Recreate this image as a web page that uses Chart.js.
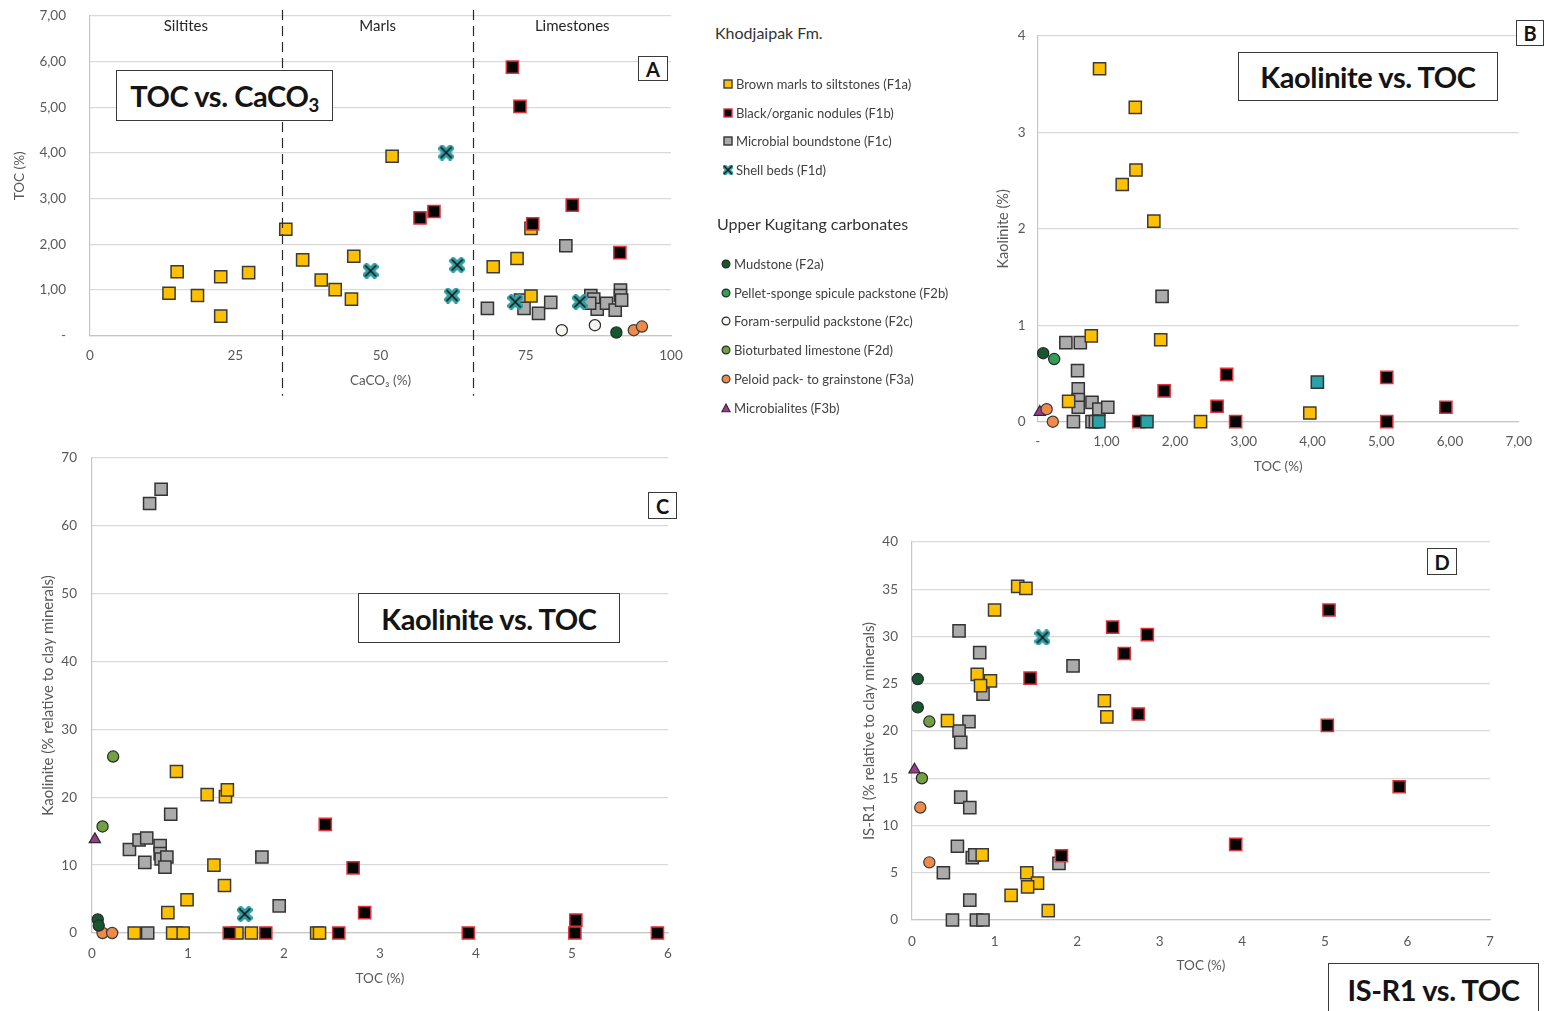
<!DOCTYPE html>
<html>
<head>
<meta charset="utf-8">
<script src="https://cdn.jsdelivr.net/npm/chart.js@4.4.1/dist/chart.umd.min.js"></script>
<style>
  html, body { margin: 0; padding: 0; background: #fff; }
  body { width: 1545px; height: 1011px; position: relative; overflow: hidden; font-family: Lato, "Open Sans", sans-serif; }
  .pane { position: absolute; }
  .tbox { position: absolute; border: 1.5px solid #3a3a3a; background: #fff; font-weight: 700; color: #141414;
          display: flex; align-items: center; justify-content: center; white-space: nowrap; box-sizing: border-box; letter-spacing: -0.4px; }
  .tbox sub { font-size: 0.64em; vertical-align: -0.28em; line-height: 0; }
  .lbox { position: absolute; border: 1.5px solid #3a3a3a; background: #fff; font-weight: 700; color: #141414;
          display: flex; align-items: center; justify-content: center; font-size: 20px; box-sizing: border-box; }
  .lg-head { position: absolute; font-size: 16px; color: #333; white-space: nowrap; }
  .lg-item { position: absolute; font-size: 13px; color: #404040; white-space: nowrap; display: flex; align-items: center; }
  .lg-item svg { margin-right: 3px; }
</style>
</head>
<body>

<div class="pane" style="left:0;top:0;"><canvas id="chA" width="690" height="400"></canvas></div>
<div class="pane" style="left:990px;top:0;"><canvas id="chB" width="555" height="480"></canvas></div>
<div class="pane" style="left:30px;top:440px;"><canvas id="chC" width="660" height="560"></canvas></div>
<div class="pane" style="left:850px;top:525px;"><canvas id="chD" width="695" height="486"></canvas></div>

<div class="tbox" style="left:116px;top:70px;width:217px;height:51px;font-size:29px;"><span>TOC vs. CaCO<sub>3</sub></span></div>
<div class="lbox" style="left:638px;top:56px;width:30px;height:25px;">A</div>

<div class="tbox" style="left:1238px;top:52px;width:260px;height:49px;font-size:29px;">Kaolinite vs. TOC</div>
<div class="lbox" style="left:1516px;top:20px;width:28px;height:26px;">B</div>

<div class="tbox" style="left:358px;top:593px;width:262px;height:50px;font-size:29px;">Kaolinite vs. TOC</div>
<div class="lbox" style="left:648px;top:492px;width:29px;height:27px;">C</div>

<div class="tbox" style="left:1328px;top:963px;width:211px;height:56px;font-size:29px;align-items:flex-start;padding-top:8px;">IS-R1 vs. TOC</div>
<div class="lbox" style="left:1427px;top:548px;width:30px;height:27px;">D</div>

<div id="legend"></div>

<script>
// ---- Facies names ----
const faciesNames = {
  F1a: 'Brown marls to siltstones (F1a)',
  F1b: 'Black/organic nodules (F1b)',
  F1c: 'Microbial boundstone (F1c)',
  F1d: 'Shell beds (F1d)',
  F2a: 'Mudstone (F2a)',
  F2b: 'Pellet-sponge spicule packstone (F2b)',
  F2c: 'Foram-serpulid packstone (F2c)',
  F2d: 'Bioturbated limestone (F2d)',
  F3a: 'Peloid pack- to grainstone (F3a)',
  F3b: 'Microbialites (F3b)'
};
const groupHeads = ['Khodjaipak Fm.', 'Upper Kugitang carbonates'];
const groupKhodjaipak = ['F1a', 'F1b', 'F1c', 'F1d'];
const groupKugitang = ['F2a', 'F2b', 'F2c', 'F2d', 'F3a', 'F3b'];

// ---- Panel A: TOC (%) vs CaCO3 (%) — [CaCO3, TOC] ----
const A_F1a = [[13.6,0.93],[15.0,1.40],[18.5,0.88],[22.5,1.29],[22.5,0.43],[27.3,1.38],[33.7,2.33],[36.6,1.66],
               [39.8,1.22],[42.2,1.01],[45.0,0.80],[45.4,1.74],[52.0,3.93],[69.4,1.51],[73.5,1.69],[75.9,0.87],[75.9,2.35]];
const A_F1b = [[56.8,2.58],[59.2,2.72],[72.7,5.88],[74.0,5.02],[76.2,2.45],[83.0,2.86],[91.2,1.82]];
const A_F1c = [[68.4,0.60],[74.1,0.78],[74.7,0.60],[77.2,0.49],[79.3,0.73],[81.9,1.97],[86.2,0.88],[86.7,0.80],
               [87.3,0.58],[86.0,0.71],[88.9,0.71],[90.4,0.56],[91.3,1.00],[91.3,0.88],[91.5,0.78]];
const A_F1d = [[48.3,1.42],[61.3,4.01],[62.3,0.88],[63.2,1.55],[73.2,0.74],[84.3,0.74]];
const A_F2a = [[90.6,0.07]];
const A_F2c = [[81.2,0.12],[86.9,0.23]];
const A_F3a = [[93.6,0.12],[95.0,0.20]];
const A_xTicks = ['0','25','50','75','100'];
const A_yTicks = ['-','1,00','2,00','3,00','4,00','5,00','6,00','7,00'];
const A_zones = ['Siltites','Marls','Limestones'];
const A_zoneBounds = [0, 33, 66, 100];

// ---- Panel B: Kaolinite (%) vs TOC (%) ----
const B_F1a = [[0.90,3.66],[1.42,3.26],[1.43,2.61],[1.23,2.46],[1.69,2.08],[0.78,0.89],[1.79,0.85],[0.45,0.21],[2.37,0],[3.96,0.09]];
const B_F1b = [[2.75,0.49],[1.84,0.32],[2.61,0.16],[2.88,0],[1.47,0],[5.08,0.46],[5.08,0],[5.94,0.15]];
const B_F1c = [[1.81,1.30],[0.41,0.82],[0.62,0.82],[0.58,0.53],[0.59,0.34],[0.59,0.23],[0.59,0.15],[0.79,0.20],
               [0.89,0.13],[1.02,0.15],[0.52,0],[0.79,0],[0.84,0]];
const B_F1d = [[4.07,0.41],[1.59,0],[0.89,0]];
const B_F2a = [[0.08,0.71]];
const B_F2b = [[0.24,0.65]];
const B_F3a = [[0.13,0.13],[0.22,0]];
const B_F3b = [[0.03,0.10]];
const B_xTicks = ['-','1,00','2,00','3,00','4,00','5,00','6,00','7,00'];
const B_yTicks = ['0','1','2','3','4'];

// ---- Panel C: Kaolinite (% relative to clay minerals) vs TOC (%) ----
const C_F1a = [[0.88,23.8],[1.20,20.4],[1.39,20.1],[1.41,21.1],[1.27,10.0],[1.38,7.0],[0.99,4.9],[0.79,3.0],
               [0.44,0],[0.84,0],[0.95,0],[1.51,0],[1.66,0],[2.34,0],[2.37,0]];
const C_F1b = [[2.43,16.0],[2.72,9.6],[2.84,3.0],[5.04,1.9],[1.43,0],[1.81,0],[2.57,0],[3.92,0],[5.03,0],[5.89,0]];
const C_F1c = [[0.60,63.3],[0.72,65.4],[0.82,17.5],[0.39,12.3],[0.49,13.7],[0.57,14.0],[0.55,10.4],[0.71,12.9],
               [0.71,11.7],[0.72,10.9],[0.78,11.2],[0.76,9.7],[1.77,11.2],[1.95,4.0],[0.58,0],[0.88,0]];
const C_F1d = [[1.59,2.8]];
const C_F2a = [[0.06,2.0],[0.07,1.1]];
const C_F2d = [[0.22,26.0],[0.11,15.7]];
const C_F3a = [[0.11,0],[0.21,0]];
const C_F3b = [[0.03,13.8]];
const C_xTicks = ['0','1','2','3','4','5','6'];
const C_yTicks = ['0','10','20','30','40','50','60','70'];

// ---- Panel D: IS-R1 (% relative to clay minerals) vs TOC (%) ----
const D_F1a = [[1.28,35.3],[1.38,35.1],[1.00,32.8],[0.79,26.0],[0.95,25.3],[0.83,24.8],[0.43,21.1],[2.33,23.2],
               [2.36,21.5],[0.85,6.9],[1.39,5.0],[1.52,3.9],[1.40,3.5],[1.20,2.6],[1.65,1.0]];
const D_F1b = [[5.05,32.8],[2.43,31.0],[2.85,30.2],[2.57,28.2],[1.43,25.6],[2.74,21.8],[5.03,20.6],[5.90,14.1],[3.92,8.0],[1.81,6.8]];
const D_F1c = [[0.57,30.6],[0.82,28.3],[1.95,26.9],[0.86,23.9],[0.69,21.0],[0.57,20.0],[0.59,18.8],[0.59,13.0],
               [0.70,11.9],[0.55,7.8],[0.73,6.6],[0.76,6.9],[0.38,5.0],[1.78,6.0],[0.70,2.1],[0.49,0],[0.78,0],[0.86,0]];
const D_F1d = [[1.58,29.9]];
const D_F2a = [[0.07,25.5],[0.07,22.5]];
const D_F2d = [[0.21,21.0],[0.12,15.0]];
const D_F3a = [[0.10,11.9],[0.21,6.1]];
const D_F3b = [[0.03,15.9]];
const D_xTicks = ['0','1','2','3','4','5','6','7'];
const D_yTicks = ['0','5','10','15','20','25','30','35','40'];

// ---- Marker styles ----
function shellMarker() {
  const c = document.createElement('canvas');
  c.width = 16; c.height = 16;
  const g = c.getContext('2d');
  g.lineCap = 'square';
  g.strokeStyle = '#2f9fa3'; g.lineWidth = 7;
  g.beginPath(); g.moveTo(4,4); g.lineTo(12,12); g.moveTo(12,4); g.lineTo(4,12); g.stroke();
  g.strokeStyle = '#111'; g.lineWidth = 1.5; g.lineCap = 'butt';
  g.beginPath(); g.moveTo(2.5,2.5); g.lineTo(13.5,13.5); g.moveTo(13.5,2.5); g.lineTo(2.5,13.5); g.stroke();
  return c;
}
const SHELL = shellMarker();
const styles = {
  F1a: { shape: 'rect', r: 8.6, fill: '#FFC000', stroke: '#3a3a3a', bw: 1.5, order: 2 },
  F1b: { shape: 'rect', r: 8.6, fill: '#050505', stroke: '#e0323c', bw: 1.5, order: 1 },
  F1c: { shape: 'rect', r: 8.6, fill: '#ababab', stroke: '#333333', bw: 1.5, order: 3 },
  F1d: { shape: SHELL,  r: 8,   fill: '#2f9fa3', stroke: '#222', bw: 1, order: 0 },
  F1dSq: { shape: 'rect', r: 8.6, fill: '#2aa3a8', stroke: '#333333', bw: 1.5, order: 0 },
  F2a: { shape: 'circle', r: 5.6, fill: '#17572f', stroke: '#2a2a2a', bw: 1.2, order: 2 },
  F2b: { shape: 'circle', r: 5.6, fill: '#2ea155', stroke: '#2a2a2a', bw: 1.2, order: 2 },
  F2c: { shape: 'circle', r: 5.6, fill: '#f7f7f2', stroke: '#2a2a2a', bw: 1.2, order: 2 },
  F2d: { shape: 'circle', r: 5.6, fill: '#73a043', stroke: '#2a2a2a', bw: 1.2, order: 2 },
  F3a: { shape: 'circle', r: 5.6, fill: '#f08a48', stroke: '#3a3a3a', bw: 1.2, order: 2 },
  F3b: { shape: 'triangle', r: 6.5, fill: '#9a3c8e', stroke: '#2a2a2a', bw: 1.2, order: 2 }
};

const TICK_COLOR = '#595959';
const NONE = 'rgba(0,0,0,0)';
const FONT = 'Lato, "Open Sans", sans-serif';
Chart.defaults.font.family = FONT;

function ds(key, pts, styleKey) {
  const s = styles[styleKey || key];
  return {
    label: faciesNames[key],
    data: pts.map(p => ({ x: p[0], y: p[1] })),
    pointStyle: s.shape, pointRadius: s.r, pointHoverRadius: s.r,
    backgroundColor: s.fill, borderColor: s.stroke, borderWidth: s.bw,
    pointBackgroundColor: s.fill, pointBorderColor: s.stroke, pointBorderWidth: s.bw,
    order: s.order, showLine: false
  };
}

// Tick-label offsets use an invisible tick mark length so the label gap
// does not inflate the layout padding around the plot area.
function makeChart(id, datasets, cfg) {
  return new Chart(document.getElementById(id), {
    type: 'scatter',
    data: { datasets },
    options: {
      responsive: false, animation: false, events: [],
      layout: { padding: { top: cfg.padTop, right: cfg.padRight, left: 0, bottom: 0 } },
      plugins: { legend: { display: false }, tooltip: { enabled: false } },
      clip: false,
      scales: {
        x: {
          type: 'linear', min: cfg.xMin, max: cfg.xMax,
          afterFit: s => { s.height = cfg.xAxisH; },
          grid: { display: true, drawOnChartArea: false, drawTicks: true, tickLength: cfg.xTickPad,
                  tickColor: NONE, color: NONE },
          border: { display: true, color: '#c6c6c6', width: 1.2 },
          ticks: { stepSize: cfg.xStep, padding: 0, color: TICK_COLOR, font: { size: 13.5 },
                   maxRotation: 0, autoSkip: false, callback: (v, i) => cfg.xTicks[i] },
          title: { display: true, text: cfg.xTitle, color: TICK_COLOR, font: { size: 13.5 },
                   padding: { top: 0, bottom: cfg.xTitlePad } }
        },
        y: {
          type: 'linear', min: cfg.yMin, max: cfg.yMax,
          afterFit: s => { s.width = cfg.yAxisW; },
          grid: { display: true, drawTicks: true, tickLength: cfg.yTickPad, tickColor: NONE,
                  color: '#d9d9d9', lineWidth: 1.3 },
          border: { display: true, color: '#c6c6c6', width: 1.2 },
          ticks: { stepSize: cfg.yStep, padding: 0, color: TICK_COLOR, font: { size: 13.5 },
                   autoSkip: false, callback: (v, i) => cfg.yTicks[i] },
          title: { display: true, text: cfg.yTitle, color: TICK_COLOR, font: { size: cfg.yTitleSize || 13.5 },
                   padding: { top: cfg.yTitlePad, bottom: 0 } }
        }
      }
    },
    plugins: cfg.plugins || []
  });
}

// Lithology zones (dashed boundaries + names) on the CaCO3 axis
const zonePlugin = {
  id: 'zones',
  afterDatasetsDraw(chart) {
    const { ctx, chartArea, scales: { x } } = chart;
    ctx.save();
    ctx.strokeStyle = '#2b2b2b';
    ctx.lineWidth = 1.2;
    ctx.setLineDash([10, 6]);
    for (let i = 1; i < A_zoneBounds.length - 1; i++) {
      const px = Math.round(x.getPixelForValue(A_zoneBounds[i])) + 0.5;
      ctx.beginPath();
      ctx.moveTo(px, chartArea.top - 6);
      ctx.lineTo(px, chartArea.bottom + 60);
      ctx.stroke();
    }
    ctx.setLineDash([]);
    ctx.fillStyle = '#262626';
    ctx.font = '15px ' + FONT;
    ctx.textAlign = 'center';
    ctx.textBaseline = 'middle';
    for (let i = 0; i < A_zones.length; i++) {
      const mid = (A_zoneBounds[i] + A_zoneBounds[i + 1]) / 2;
      ctx.fillText(A_zones[i], x.getPixelForValue(mid), chartArea.top + 10);
    }
    ctx.restore();
  }
};

makeChart('chA', [
  ds('F1d', A_F1d), ds('F1b', A_F1b), ds('F1a', A_F1a), ds('F1c', A_F1c),
  ds('F2a', A_F2a), ds('F2c', A_F2c), ds('F3a', A_F3a)
], {
  xMin: 0, xMax: 100, xStep: 25, yMin: 0, yMax: 7, yStep: 1,
  xTicks: A_xTicks, yTicks: A_yTicks,
  xTitle: 'CaCO₃ (%)', yTitle: 'TOC (%)',
  padTop: 16, padRight: 19, xAxisH: 64.3, yAxisW: 90,
  xTickPad: 12, yTickPad: 24, xTitlePad: 11, yTitlePad: 12,
  plugins: [zonePlugin]
});

makeChart('chB', [
  ds('F1d', B_F1d, 'F1dSq'), ds('F1b', B_F1b), ds('F1a', B_F1a), ds('F1c', B_F1c),
  ds('F2a', B_F2a), ds('F2b', B_F2b), ds('F3a', B_F3a), ds('F3b', B_F3b)
], {
  xMin: 0, xMax: 7, xStep: 1, yMin: 0, yMax: 4, yStep: 1,
  xTicks: B_xTicks, yTicks: B_yTicks,
  xTitle: 'TOC (%)', yTitle: 'Kaolinite (%)', yTitleSize: 14.5,
  padTop: 36, padRight: 26.3, xAxisH: 58.3, yAxisW: 47.7,
  xTickPad: 12, yTickPad: 12, xTitlePad: 5, yTitlePad: 5
});

makeChart('chC', [
  ds('F1d', C_F1d), ds('F1b', C_F1b), ds('F1a', C_F1a), ds('F1c', C_F1c),
  ds('F2a', C_F2a), ds('F2d', C_F2d), ds('F3a', C_F3a), ds('F3b', C_F3b)
], {
  xMin: 0, xMax: 6, xStep: 1, yMin: 0, yMax: 70, yStep: 10,
  xTicks: C_xTicks, yTicks: C_yTicks,
  xTitle: 'TOC (%)', yTitle: 'Kaolinite (% relative to clay minerals)', yTitleSize: 15,
  padTop: 18, padRight: 22, xAxisH: 67, yAxisW: 62,
  xTickPad: 13, yTickPad: 15, xTitlePad: 13, yTitlePad: 9
});

makeChart('chD', [
  ds('F1d', D_F1d), ds('F1b', D_F1b), ds('F1a', D_F1a), ds('F1c', D_F1c),
  ds('F2a', D_F2a), ds('F2d', D_F2d), ds('F3a', D_F3a), ds('F3b', D_F3b)
], {
  xMin: 0, xMax: 7, xStep: 1, yMin: 0, yMax: 40, yStep: 5,
  xTicks: D_xTicks, yTicks: D_yTicks,
  xTitle: 'TOC (%)', yTitle: 'IS-R1 (% relative to clay minerals)', yTitleSize: 15,
  padTop: 17, padRight: 55, xAxisH: 91, yAxisW: 62,
  xTickPad: 14, yTickPad: 14, xTitlePad: 37, yTitlePad: 10
});

// ---- Shared facies legend ----
function markerSvg(key) {
  const s = styles[key];
  const w = 10;
  let inner;
  if (key === 'F1d') {
    inner = '<path d="M2,2 L8,8 M8,2 L2,8" stroke="' + s.fill + '" stroke-width="4.5" stroke-linecap="square"/>' +
            '<path d="M1,1 L9,9 M9,1 L1,9" stroke="#111" stroke-width="1.2"/>';
  } else if (s.shape === 'rect') {
    inner = '<rect x="1" y="1" width="8" height="8" fill="' + s.fill + '" stroke="' + s.stroke + '" stroke-width="1.4"/>';
  } else if (s.shape === 'circle') {
    inner = '<circle cx="5" cy="5" r="3.9" fill="' + s.fill + '" stroke="' + s.stroke + '" stroke-width="1.2"/>';
  } else {
    inner = '<polygon points="5,1 9.2,8.8 0.8,8.8" fill="' + s.fill + '" stroke="' + s.stroke + '" stroke-width="1.1"/>';
  }
  return '<svg width="' + w + '" height="' + w + '" viewBox="0 0 10 10">' + inner + '</svg>';
}

const legend = document.getElementById('legend');
function addHead(text, left, cy) {
  const d = document.createElement('div');
  d.className = 'lg-head';
  d.textContent = text;
  d.style.left = left + 'px';
  d.style.top = (cy - 10) + 'px';
  legend.appendChild(d);
}
function addItem(key, left, cy) {
  const d = document.createElement('div');
  d.className = 'lg-item';
  d.innerHTML = markerSvg(key) + '<span></span>';
  d.querySelector('span').textContent = faciesNames[key];
  d.style.left = left + 'px';
  d.style.top = (cy - 9) + 'px';
  d.style.height = '18px';
  legend.appendChild(d);
}
addHead(groupHeads[0], 715, 33);
[84, 112.5, 141, 170].forEach((cy, i) => addItem(groupKhodjaipak[i], 723, cy));
addHead(groupHeads[1], 717, 224);
[264, 293, 321, 350, 379, 408].forEach((cy, i) => addItem(groupKugitang[i], 721, cy));
</script>
</body>
</html>
